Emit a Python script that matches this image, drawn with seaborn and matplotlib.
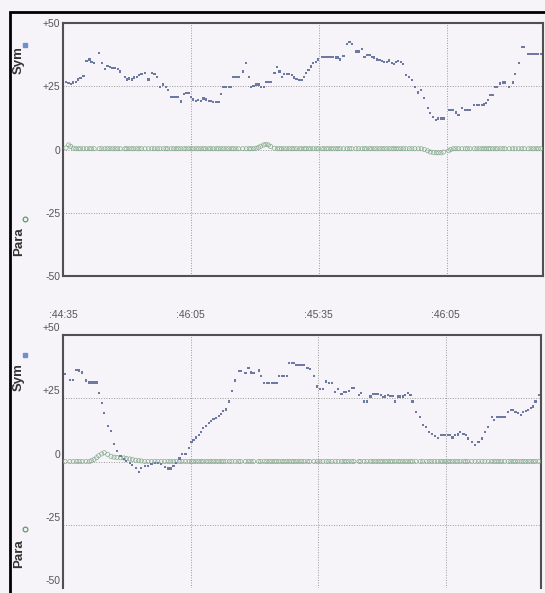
import numpy as np
import pandas as pd
import matplotlib
matplotlib.use("Agg")
import matplotlib.pyplot as plt
import seaborn as sns
from matplotlib.lines import Line2D
from matplotlib.patches import Rectangle
from matplotlib.transforms import ScaledTranslation

# ---------------- data (seconds after 44:35, values) ----------------
top_t = [0.7, 1.3, 1.8, 2.4, 3.0, 3.6, 4.1, 4.8,
         5.5, 6.2, 6.7, 7.3, 8.5, 9.1, 9.8, 10.4, 11.0, 11.6, 12.2, 12.8, 13.4,
         14.5, 14.9, 15.5, 16.1, 16.6, 17.3, 17.8, 18.4, 19.2, 20.0, 20.8, 21.4, 22.1,
         22.7, 23.5, 24.1, 24.5, 25.3, 25.9, 26.5, 27.0, 27.6, 28.3, 28.8, 29.4, 30.0,
         30.5, 31.2, 31.7, 32.3, 32.9, 33.4, 34.1, 34.6, 35.2, 35.9, 36.4, 37.0,
         37.6, 38.2, 38.8, 39.4, 39.9, 40.5, 41.1, 42.1, 42.9, 43.6, 44.0, 44.6, 45.2, 45.8, 46.3, 47.0,
         47.5, 48.1, 48.6, 49.5, 50.2, 50.7, 51.2, 51.8, 52.4, 53.0, 53.6, 54.1, 54.7, 55.4, 55.9,
         56.5, 56.9, 57.5, 58.0, 58.6, 59.3, 59.8, 60.6, 61.1, 61.7, 62.2, 62.8, 63.3, 63.9, 64.4, 64.9, 65.7,
         66.5, 67.1, 67.6, 68.6, 69.2, 70.0, 70.6, 71.1, 71.8, 72.3, 72.9, 73.5, 74.1, 74.7, 75.2,
         75.8, 76.4, 77.0, 77.5, 78.0, 78.5, 79.1, 79.7, 80.3, 81.1, 81.7, 82.4, 83.2, 83.9, 84.6, 85.4,
         86.0, 86.7, 87.4, 87.9, 88.5, 89.1,
         90.3, 90.8, 91.4, 92.0, 92.6, 93.4, 94.2, 94.7, 95.3, 96.3, 96.9, 97.5, 98.1, 98.6, 99.1, 99.6,
         100.0, 100.6,
         101.2, 101.7, 102.4, 103.0, 103.5, 104.5, 105.3, 105.9, 106.7, 107.4, 108.0, 109.0, 109.6,
         110.2, 110.8, 111.3, 111.9]
top_sym = [26.8, 26.2, 25.9, 26.5, 26.8, 27.7, 28.4, 29.1,
           35.0, 35.6, 34.7, 34.1, 38.0, 34.1, 31.8, 33.0, 32.5, 32.1, 32.1, 31.8, 30.8,
           28.8, 27.7, 28.1, 27.7, 28.5, 28.8, 29.4, 29.8, 30.1, 27.7, 30.1, 29.8, 28.8,
           24.8, 25.7, 24.8, 23.5, 20.9, 20.9, 20.9, 20.9, 19.0, 22.0, 22.2, 22.2, 20.9,
           19.8, 19.2, 19.6, 19.2, 20.2, 19.8, 19.3, 19.2, 18.9, 18.9, 18.9, 21.9,
           24.6, 24.6, 24.6, 24.6, 28.8, 28.8, 28.8, 30.8, 34.1, 28.8, 24.8, 25.1, 25.7, 25.7, 24.8, 24.6,
           26.8, 26.8, 26.8, 30.1, 32.5, 30.8, 28.8, 29.8, 29.8, 29.8, 29.4, 28.5, 27.8, 27.5, 27.5,
           28.8, 30.1, 31.4, 32.8, 34.1, 34.5, 35.6, 36.7, 36.7, 36.7, 36.7, 36.7, 36.7, 36.4, 36.4, 35.6, 36.9,
           41.7, 42.6, 41.7, 38.7, 38.7, 39.6, 36.7, 37.3, 37.3, 36.7, 36.4, 35.6, 35.3, 35.0, 34.7,
           34.5, 35.2, 34.1, 33.8, 34.5, 35.0, 34.7, 33.8, 29.4, 28.8, 27.5, 24.6, 22.5, 23.5, 20.5, 16.5,
           14.3, 12.7, 11.7, 12.3, 12.3, 12.3,
           15.6, 15.6, 15.6, 14.6, 13.7, 16.5, 15.6, 15.6, 15.6, 17.5, 17.5, 17.5, 17.5, 17.8, 18.3, 19.6,
           21.6, 21.6,
           24.6, 24.8, 26.1, 26.5, 26.5, 24.8, 26.5, 29.8, 34.3, 40.6, 40.6, 37.7, 37.7,
           37.7, 37.7, 37.7, 37.7]
top_para = [0.6, 1.8, 1.2, 0.5, 0.3, 0.3, 0.3, 0.3,
            0.3, 0.3, 0.3, 0.3, 0.3, 0.3, 0.3, 0.3, 0.3, 0.3, 0.3, 0.3, 0.3,
            0.3, 0.3, 0.3, 0.3, 0.3, 0.3, 0.3, 0.3, 0.3, 0.3, 0.3, 0.3, 0.3,
            0.3, 0.3, 0.3, 0.3, 0.3, 0.3, 0.3, 0.3, 0.3, 0.3, 0.3, 0.3, 0.3,
            0.3, 0.3, 0.3, 0.3, 0.3, 0.3, 0.3, 0.3, 0.3, 0.3, 0.3, 0.3,
            0.3, 0.3, 0.3, 0.3, 0.3, 0.3, 0.3, 0.3, 0.3, 0.3, 0.3, 0.3, 0.5, 0.8, 1.3, 1.8,
            2.0, 1.8, 1.2, 0.5, 0.3, 0.3, 0.3, 0.3, 0.3, 0.3, 0.3, 0.3, 0.3, 0.3, 0.3,
            0.3, 0.3, 0.3, 0.3, 0.3, 0.3, 0.3, 0.3, 0.3, 0.3, 0.3, 0.3, 0.3, 0.3, 0.3, 0.3, 0.3,
            0.3, 0.3, 0.3, 0.3, 0.3, 0.3, 0.3, 0.3, 0.3, 0.3, 0.3, 0.3, 0.3, 0.3, 0.3,
            0.3, 0.3, 0.3, 0.3, 0.3, 0.3, 0.3, 0.3, 0.3, 0.3, 0.3, 0.3, 0.3, 0.3, 0.0, -0.5,
            -1.0, -1.2, -1.3, -1.3, -1.3, -1.0,
            -0.5, 0.0, 0.3, 0.3, 0.3, 0.3, 0.3, 0.3, 0.3, 0.3, 0.3, 0.3, 0.3, 0.3, 0.3, 0.3,
            0.3, 0.3,
            0.3, 0.3, 0.3, 0.3, 0.3, 0.3, 0.3, 0.3, 0.3, 0.3, 0.3, 0.3, 0.3,
            0.3, 0.3, 0.3, 0.3]

bot_t = [0.5, 1.6, 2.4, 3.2, 3.8, 4.5, 5.4, 6.2, 6.7, 7.3, 7.9, 8.4, 9.1, 9.7, 10.5, 11.3, 12.0, 12.7,
         13.5, 14.3, 14.9, 15.7, 16.3, 17.1, 17.8, 18.4, 19.2, 20.0, 20.8, 21.6, 22.3, 23.1, 23.9, 24.7,
         25.3, 26.0, 26.6, 27.4, 28.0, 28.8,
         29.6, 30.2, 30.7, 31.3, 31.9, 32.5, 33.0, 33.7, 34.3, 34.8, 35.4, 36.0, 36.6, 37.2, 37.7, 38.3,
         39.1, 39.7,
         40.5, 41.3, 41.8, 42.9, 43.6, 44.2, 44.8, 46.0, 46.5, 47.3, 47.9, 48.5, 49.1, 49.7, 50.2, 50.8,
         51.5, 52.0, 52.6,
         53.2, 53.8, 54.3, 54.9, 55.5, 56.1, 56.7, 57.5, 58.0, 59.0, 59.8, 60.4, 61.1, 61.9, 62.5, 63.2,
         64.0, 64.7, 65.5, 66.1, 66.6, 67.2, 67.9, 68.4,
         69.6, 70.0, 70.8, 71.5, 72.3, 72.9, 73.5, 74.1, 74.7, 75.2, 75.8, 76.4, 77.0, 77.5, 78.1, 78.8,
         79.3, 79.9, 80.5, 81.1, 81.7, 82.2,
         83.0, 84.0, 84.6, 85.4, 86.1, 86.7, 87.4, 88.1, 88.8, 89.3, 89.9, 90.5, 91.0, 91.6, 92.2, 92.8,
         93.4, 94.2, 94.7, 95.2,
         96.1, 96.9, 97.7, 98.5, 99.2, 100.0, 100.8, 101.4, 102.0, 102.5, 103.1, 103.8, 104.7, 105.3,
         105.9, 106.4, 107.0, 107.7, 108.2, 108.8, 109.4, 110.0, 110.6, 111.1, 111.9]
bot_sym = [34.7, 32.3, 32.3, 36.2, 36.0, 35.2, 32.0, 31.2, 31.2, 31.2, 31.2, 27.2, 23.0, 19.3, 14.0, 12.2, 6.9, 4.2,
           2.1, 1.1, 0.3, -0.5, -1.5, -2.6, -4.2, -2.6, -1.9, -1.9, -1.1, -0.5, -0.5, -1.1, -2.1, -2.8,
           -2.8, -1.9, -0.5, 1.2, 2.9, 2.9,
           5.2, 7.8, 8.5, 9.5, 10.4, 11.8, 13.1, 14.0, 15.3, 16.0, 16.7, 17.1, 18.0, 18.8, 20.0, 20.6,
           23.7, 28.0,
           32.0, 35.8, 35.8, 34.9, 36.9, 35.2, 34.9, 36.0, 33.9, 31.0, 31.0, 31.0, 31.0, 31.0, 31.0, 33.9,
           33.9, 33.9, 33.9,
           38.9, 38.9, 38.9, 38.2, 38.0, 38.0, 38.0, 36.9, 36.5, 33.9, 29.6, 28.7, 28.7, 31.6, 31.0, 31.0,
           27.6, 28.6, 26.7, 27.6, 27.6, 28.0, 29.0, 29.0,
           26.3, 27.0, 23.7, 23.7, 25.7, 26.7, 26.7, 26.7, 26.3, 25.4, 25.7, 26.3, 25.9, 25.9, 23.7, 25.7,
           25.7, 25.7, 26.3, 27.0, 26.3, 23.7,
           19.7, 17.5, 14.4, 13.5, 11.8, 10.8, 10.2, 9.4, 10.4, 10.4, 10.4, 10.4, 10.4, 9.5, 10.4, 10.7,
           11.8, 10.8, 10.4, 9.1,
           7.8, 6.5, 7.8, 9.1, 11.8, 13.5, 17.5, 16.4, 17.5, 17.5, 17.5, 17.5, 19.7, 20.4,
           20.4, 19.7, 19.3, 18.4, 19.7, 20.1, 20.4, 21.0, 21.7, 23.7, 26.3]
bot_para = [0.0, 0.0, 0.0, 0.0, 0.0, 0.0, 0.0, 0.0, 0.3, 0.8, 1.5, 2.3, 3.0, 3.5, 2.8, 2.0, 1.7, 1.6,
            1.5, 1.4, 1.2, 1.0, 0.8, 0.5, 0.3, 0.2, 0.0, 0.0, 0.0, 0.0, 0.0, 0.0, 0.0, 0.0,
            0.0, 0.0, 0.0, 0.0, 0.0, 0.0,
            0.0, 0.0, 0.0, 0.0, 0.0, 0.0, 0.0, 0.0, 0.0, 0.0, 0.0, 0.0, 0.0, 0.0, 0.0, 0.0,
            0.0, 0.0,
            0.0, 0.0, 0.0, 0.0, 0.0, 0.0, 0.0, 0.0, 0.0, 0.0, 0.0, 0.0, 0.0, 0.0, 0.0, 0.0,
            0.0, 0.0, 0.0,
            0.0, 0.0, 0.0, 0.0, 0.0, 0.0, 0.0, 0.0, 0.0, 0.0, 0.0, 0.0, 0.0, 0.0, 0.0, 0.0,
            0.0, 0.0, 0.0, 0.0, 0.0, 0.0, 0.0, 0.0,
            0.0, 0.0, 0.0, 0.0, 0.0, 0.0, 0.0, 0.0, 0.0, 0.0, 0.0, 0.0, 0.0, 0.0, 0.0, 0.0,
            0.0, 0.0, 0.0, 0.0, 0.0, 0.0,
            0.0, 0.0, 0.0, 0.0, 0.0, 0.0, 0.0, 0.0, 0.0, 0.0, 0.0, 0.0, 0.0, 0.0, 0.0, 0.0,
            0.0, 0.0, 0.0, 0.0,
            0.0, 0.0, 0.0, 0.0, 0.0, 0.0, 0.0, 0.0, 0.0, 0.0, 0.0, 0.0, 0.0, 0.0,
            0.0, 0.0, 0.0, 0.0, 0.0, 0.0, 0.0, 0.0, 0.0, 0.0, 0.0]

y_ticks = [50, 25, 0, -25, -50]
y_tick_labels = ["+50", "+25", "0", "-25", "-50"]
x_ticks = [0, 30, 60, 90]
x_tick_labels = [":44:35", ":46:05", ":45:35", ":46:05"]
x_max = 112.4

# ---------------- style ----------------
sns.set_style("white")
plt.rcParams['font.family'] = ['Liberation Sans', 'DejaVu Sans']

BG = '#f6f4f9'
SYM_C = '#6b79a3'
PARA_C = '#86ac8d'
GRID_C = '#9a9a9a'
SPINE_C = '#505050'
W, H = 545, 593

fig = plt.figure(figsize=(W / 100, H / 100), dpi=100, facecolor=BG)
ax1 = fig.add_axes([63 / W, 1 - 276 / H, 480 / W, 253 / H])
ax2 = fig.add_axes([63 / W, 1 - 588 / H, 478 / W, 253 / H])


def draw(ax, t, sym, para):
    df = pd.DataFrame({'t': t, 'sym': sym, 'para': para})
    ax.set_facecolor(BG)
    sns.scatterplot(data=df, x='t', y='para', ax=ax, marker='o', s=9,
                    color=PARA_C, edgecolor=PARA_C, linewidth=0.5, legend=False, zorder=3)
    ax.collections[-1].set_facecolor('none')
    sns.scatterplot(data=df, x='t', y='sym', ax=ax, marker='s', s=2.6,
                    color=SYM_C, edgecolor='none', linewidth=0, legend=False, zorder=4)
    ax.set_xlim(0, x_max)
    ax.set_ylim(-50, 50)
    ax.set_xlabel('')
    ax.set_ylabel('')
    ax.set_yticks(y_ticks, y_tick_labels)
    ax.set_xticks(x_ticks)
    ax.grid(True, color=GRID_C, linestyle=(0, (1, 1.6)), linewidth=0.7)
    ax.set_axisbelow(True)
    ax.tick_params(axis='y', length=0, pad=2, labelsize=7.5, labelcolor='#555555')
    for s in ax.spines.values():
        s.set_color(SPINE_C)
        s.set_linewidth(1.5)


draw(ax1, top_t, top_sym, top_para)
draw(ax2, bot_t, bot_sym, bot_para)

ax1.tick_params(axis='x', length=0, labelbottom=False)

ax2.xaxis.tick_top()
ax2.set_xticks(x_ticks, x_tick_labels)
ax2.tick_params(axis='x', length=0, pad=11, labelsize=7.5, labelcolor='#555555')
ax2.spines['bottom'].set_visible(False)
shift = ScaledTranslation(0, 8 / 100, fig.dpi_scale_trans)
for lab in ax2.get_yticklabels():
    lab.set_transform(lab.get_transform() + shift)

# side "legend" labels
for (ty, my), (py, mp) in [((60, 45), (242, 219)), ((377, 355), (554, 529))]:
    fig.text(19 / W, 1 - ty / H, 'Sym', rotation=90, ha='center', va='center',
             fontsize=9.5, fontweight='bold', color='#333333')
    fig.add_artist(Line2D([25 / W], [1 - my / H], marker='s', markersize=3.2,
                          color='#6f8fcf', linestyle='none', transform=fig.transFigure))
    fig.text(19 / W, 1 - py / H, 'Para', rotation=90, ha='center', va='center',
             fontsize=9.5, fontweight='bold', color='#333333')
    fig.add_artist(Line2D([25 / W], [1 - mp / H], marker='o', markersize=3.4,
                          markerfacecolor='none', markeredgecolor='#5f9a68', markeredgewidth=0.9,
                          linestyle='none', transform=fig.transFigure))

# outer frame of the scanned figure
fig.add_artist(Rectangle((10 / W, -0.02), 1.0, 1 - 12 / H + 0.02, transform=fig.transFigure,
                         fill=False, edgecolor='black', linewidth=2.0))

fig.savefig('out.png', dpi=100, facecolor=BG)
